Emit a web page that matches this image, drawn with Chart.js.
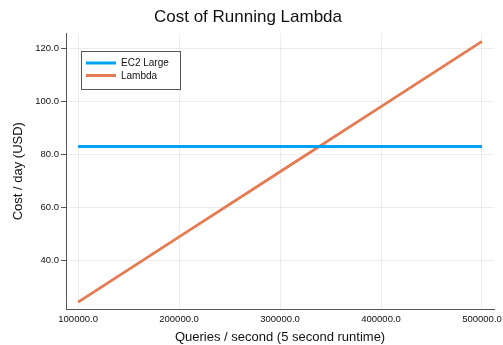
<!DOCTYPE html>
<html>
<head>
<meta charset="utf-8">
<script src="https://cdn.jsdelivr.net/npm/chart.js@4/dist/chart.umd.min.js"></script>
<style>
  html, body { margin: 0; padding: 0; background: #fff; }
  #wrap { width: 503px; height: 345px; }
</style>
</head>
<body>
<div id="wrap"><canvas id="cost-chart"></canvas></div>
<script>
const queries = [100000, 200000, 300000, 400000, 500000]
const ec2Cost = [83.0, 83.0, 83.0, 83.0, 83.0]
const lambdaCost = [24.5, 49.0, 73.5, 98.0, 122.5]
const xTicks = [100000, 200000, 300000, 400000, 500000]
const yTicks = [40, 60, 80, 100, 120]

const FONT = '"Liberation Sans", Arial, Helvetica, sans-serif'
const toPoints = (xs, ys) => xs.map((x, i) => ({ x: x, y: ys[i] }))

// Plots.jl-like boxed legend inside the top left corner
const boxLegend = {
  id: 'boxLegend',
  afterDatasetsDraw(chart) {
    const ctx = chart.ctx
    const x0 = 81, y0 = 51, w = 99, h = 38
    ctx.save()
    ctx.fillStyle = '#fff'
    ctx.fillRect(x0, y0, w, h)
    ctx.strokeStyle = '#555'
    ctx.lineWidth = 1
    ctx.strokeRect(x0 + 0.5, y0 + 0.5, w, h)
    ctx.font = '10px ' + FONT
    ctx.textBaseline = 'middle'
    chart.data.datasets.forEach((ds, i) => {
      const y = y0 + 12 + i * 12.5
      ctx.strokeStyle = ds.borderColor
      ctx.lineWidth = 3
      ctx.beginPath()
      ctx.moveTo(86, y)
      ctx.lineTo(116, y)
      ctx.stroke()
      ctx.fillStyle = '#111'
      ctx.fillText(ds.label, 121, y + 0.5)
    })
    ctx.restore()
  }
}

new Chart(document.getElementById('cost-chart'), {
  type: 'line',
  data: {
    datasets: [
      { label: 'EC2 Large', data: toPoints(queries, ec2Cost), borderColor: '#00A2F5', borderWidth: 3, pointRadius: 0, tension: 0 },
      { label: 'Lambda', data: toPoints(queries, lambdaCost), borderColor: '#E67B52', borderWidth: 2.8, pointRadius: 0, tension: 0 }
    ]
  },
  options: {
    responsive: true,
    maintainAspectRatio: false,
    animation: false,
    layout: { padding: { left: 0, right: 7, top: 0, bottom: 0 } },
    plugins: {
      legend: { display: false },
      tooltip: { enabled: false },
      title: {
        display: true,
        text: 'Cost of Running Lambda',
        color: '#111',
        font: { family: FONT, size: 17, weight: 'normal' },
        padding: { top: 7, bottom: 6 }
      }
    },
    scales: {
      x: {
        type: 'linear',
        min: 88000,
        max: 512000,
        afterBuildTicks: s => { s.ticks = xTicks.map(v => ({ value: v })) },
        afterFit: s => { s.height = 36 },
        ticks: {
          color: '#111',
          font: { family: FONT, size: 9.5 },
          padding: 1,
          maxRotation: 0,
          callback: v => v.toFixed(1)
        },
        grid: { color: 'rgba(0,0,0,0.07)', tickColor: 'rgba(0,0,0,0)', tickLength: 4 },
        border: { display: true, color: '#555', width: 1 },
        title: {
          display: true,
          text: 'Queries / second (5 second runtime)',
          color: '#111',
          font: { family: FONT, size: 13 },
          padding: { top: 2, bottom: 0 }
        }
      },
      y: {
        min: 21.9,
        max: 125.5,
        afterBuildTicks: s => { s.ticks = yTicks.map(v => ({ value: v })) },
        afterFit: s => { s.width = 66 },
        ticks: {
          color: '#111',
          font: { family: FONT, size: 9.5 },
          padding: 2,
          callback: v => v.toFixed(1)
        },
        grid: { color: 'rgba(0,0,0,0.07)', tickColor: '#555', tickLength: 5 },
        border: { display: true, color: '#555', width: 1 },
        title: {
          display: true,
          text: 'Cost / day (USD)',
          color: '#111',
          font: { family: FONT, size: 13 },
          padding: { top: 11, bottom: 4 }
        }
      }
    }
  },
  plugins: [boxLegend]
})
</script>
</body>
</html>
